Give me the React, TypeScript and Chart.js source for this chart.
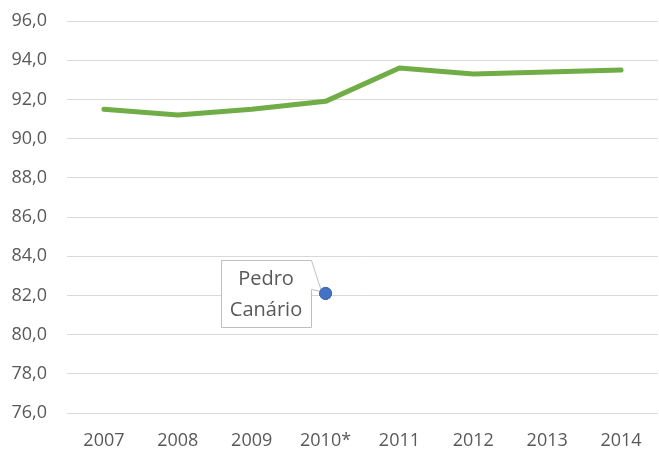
import React, { useEffect, useRef } from "react";
import { Chart, registerables } from "chart.js";

Chart.register(...registerables);

const categories = ["2007", "2008", "2009", "2010*", "2011", "2012", "2013", "2014"];
const stateValues = [91.5, 91.2, 91.5, 91.9, 93.6, 93.3, 93.4, 93.5];
const cityValues = [null, null, null, 82.1, null, null, null, null];
const cityLabel = ["Pedro", "Canário"];
const yMin = 76;
const yMax = 96;
const yStep = 2;

const FONT = "'Open Sans', sans-serif";
const TEXT = "#595959";

const calloutPlugin = {
  id: "callout",
  afterDatasetsDraw(chart: any) {
    const meta = chart.getDatasetMeta(1);
    const idx = cityValues.findIndex((v) => v !== null);
    const pt = meta.data[idx];
    if (!pt) return;
    const px = pt.x;
    const py = pt.y;
    const ctx = chart.ctx;
    const left = Math.round(px - 105);
    const right = Math.round(px - 15);
    const top = Math.round(py - 33);
    const bottom = Math.round(py + 34);
    ctx.save();
    ctx.beginPath();
    ctx.moveTo(left + 0.5, top + 0.5);
    ctx.lineTo(right + 0.5, top + 0.5);
    ctx.lineTo(px - 4, py - 2);
    ctx.lineTo(right + 0.5, top + 29.5);
    ctx.lineTo(right + 0.5, bottom + 0.5);
    ctx.lineTo(left + 0.5, bottom + 0.5);
    ctx.closePath();
    ctx.fillStyle = "#ffffff";
    ctx.fill();
    ctx.strokeStyle = "#BFBFBF";
    ctx.lineWidth = 1;
    ctx.stroke();
    ctx.fillStyle = TEXT;
    ctx.font = `20px ${FONT}`;
    ctx.textAlign = "center";
    ctx.textBaseline = "middle";
    const cx = (left + right) / 2;
    ctx.fillText(cityLabel[0], cx, py - 14);
    ctx.fillText(cityLabel[1], cx, py + 17);
    ctx.restore();
    pt.draw(ctx, chart.chartArea);
  },
};

function zeroPadding(scale: any) {
  scale.paddingTop = 0;
  scale.paddingBottom = 0;
  scale.paddingLeft = 0;
  scale.paddingRight = 0;
}

export default function App() {
  const ref = useRef<HTMLCanvasElement | null>(null);
  useEffect(() => {
    if (!ref.current) return;
    const chart = new Chart(ref.current, {
      type: "line",
      data: {
        labels: categories,
        datasets: [
          {
            data: stateValues,
            borderColor: "#70AD47",
            backgroundColor: "#70AD47",
            borderWidth: 5,
            borderCapStyle: "round",
            borderJoinStyle: "round",
            pointRadius: 0,
            tension: 0,
          },
          {
            data: cityValues as any,
            showLine: false,
            pointRadius: 6,
            pointBackgroundColor: "#4472C4",
            pointBorderColor: "#3F69B5",
            pointBorderWidth: 1,
          },
        ],
      },
      options: {
        animation: false,
        responsive: true,
        maintainAspectRatio: false,
        events: [],
        layout: { autoPadding: false, padding: { top: 21, right: 1, left: 0, bottom: 0 } },
        plugins: {
          legend: { display: false },
          tooltip: { enabled: false },
        },
        scales: {
          x: {
            offset: true,
            grid: { display: false, drawTicks: false },
            border: { display: false },
            ticks: {
              color: TEXT,
              font: { family: FONT, size: 18 },
              padding: 17,
              maxRotation: 0,
            },
            afterFit(scale: any) {
              scale.height = 37;
              zeroPadding(scale);
            },
          },
          y: {
            min: yMin,
            max: yMax,
            grid: { color: "#D9D9D9", lineWidth: 1, drawTicks: false },
            border: { display: false },
            ticks: {
              stepSize: yStep,
              color: TEXT,
              font: { family: FONT, size: 18 },
              padding: 20,
              callback: (v: any) => Number(v).toFixed(1).replace(".", ","),
            },
            afterFit(scale: any) {
              scale.width = 67;
              zeroPadding(scale);
            },
          },
        },
      },
      plugins: [calloutPlugin],
    });
    return () => chart.destroy();
  }, []);
  return (
    <div style={{ position: "absolute", left: 0, top: 0, width: 659, height: 450, background: "#fff" }}>
      <canvas ref={ref} />
    </div>
  );
}
